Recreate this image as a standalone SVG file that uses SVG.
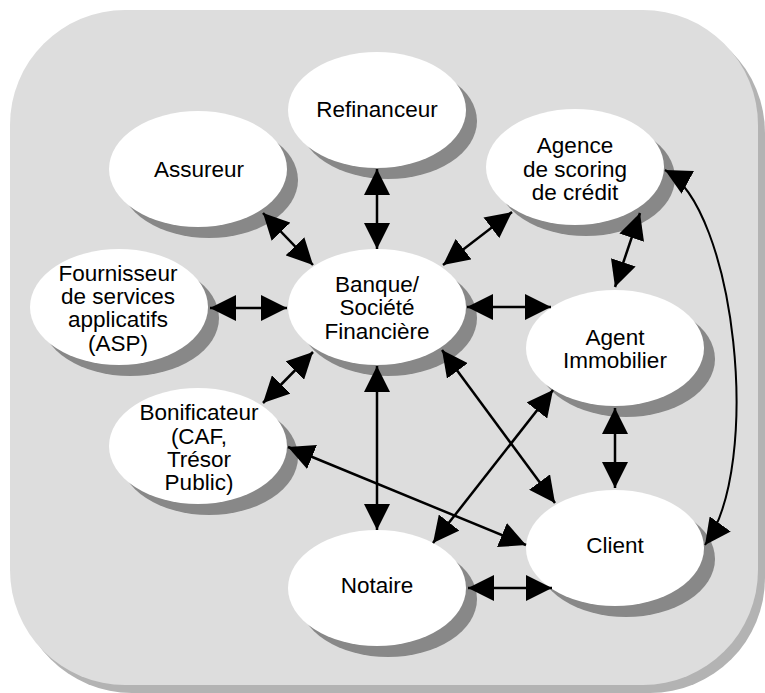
<svg xmlns="http://www.w3.org/2000/svg" width="765" height="693" viewBox="0 0 765 693">
<defs>
<style>
.sh{fill:#888888}
.el{fill:#ffffff}
text{font-family:"Liberation Sans",Arial,sans-serif;font-size:22.5px;fill:#000;text-anchor:middle}
.c{stroke:#000;stroke-width:2.5;fill:none;marker-start:url(#ah);marker-end:url(#ah)}
.cv{stroke-width:2}
</style>
<marker id="ah" markerUnits="userSpaceOnUse" markerWidth="26" markerHeight="26" refX="26" refY="13" orient="auto-start-reverse" viewBox="0 0 26 26">
<path d="M0,0 L26,13 L0,26 z" fill="#000"/>
</marker>
</defs>
<rect x="17" y="18" width="748" height="675" rx="115" ry="115" fill="#b3b3b3"/>
<rect x="10" y="10" width="748" height="675" rx="115" ry="115" fill="#dddddd"/>

<g id="refinanceur"><ellipse class="sh" cx="388" cy="121" rx="89" ry="58"/><ellipse class="el" cx="377" cy="110" rx="89" ry="58"/><text x="377" y="117">Refinanceur</text></g>
<g id="assureur"><ellipse class="sh" cx="209" cy="180" rx="89" ry="58"/><ellipse class="el" cx="198" cy="169" rx="89" ry="58"/><text x="199" y="177">Assureur</text></g>
<g id="agence"><ellipse class="sh" cx="586" cy="178" rx="89" ry="58"/><ellipse class="el" cx="575" cy="167" rx="89" ry="58"/><text x="575" y="153">Agence</text><text x="575" y="177">de scoring</text><text x="575" y="200">de crédit</text></g>
<g id="fournisseur"><ellipse class="sh" cx="130" cy="318" rx="89" ry="58"/><ellipse class="el" cx="119" cy="307" rx="89" ry="58"/><text x="118" y="281">Fournisseur</text><text x="118" y="304">de services</text><text x="118" y="327">applicatifs</text><text x="118" y="351">(ASP)</text></g>
<g id="banque"><ellipse class="sh" cx="388" cy="318" rx="89" ry="58"/><ellipse class="el" cx="377" cy="307" rx="89" ry="58"/><text x="377" y="292">Banque/</text><text x="377" y="315">Société</text><text x="377" y="339">Financière</text></g>
<g id="agent"><ellipse class="sh" cx="626" cy="359" rx="89" ry="58"/><ellipse class="el" cx="615" cy="348" rx="89" ry="58"/><text x="615" y="345">Agent</text><text x="615" y="368">Immobilier</text></g>
<g id="bonificateur"><ellipse class="sh" cx="209" cy="457" rx="89" ry="58"/><ellipse class="el" cx="198" cy="446" rx="89" ry="58"/><text x="199" y="420">Bonificateur</text><text x="199" y="444">(CAF,</text><text x="199" y="467">Trésor</text><text x="199" y="490">Public)</text></g>
<g id="client"><ellipse class="sh" cx="626" cy="559" rx="89" ry="58"/><ellipse class="el" cx="615" cy="548" rx="89" ry="58"/><text x="615" y="553">Client</text></g>
<g id="notaire"><ellipse class="sh" cx="388" cy="599" rx="89" ry="58"/><ellipse class="el" cx="377" cy="588" rx="89" ry="58"/><text x="377" y="593">Notaire</text></g>

<g id="connectors">
<line class="c" x1="377" y1="169" x2="377" y2="249"/>
<line class="c" x1="263" y1="213" x2="313" y2="265"/>
<line class="c" x1="512" y1="212" x2="443" y2="265"/>
<line class="c" x1="210" y1="308" x2="287" y2="308"/>
<line class="c" x1="263" y1="403" x2="313" y2="352"/>
<line class="c" x1="467" y1="307" x2="551" y2="307"/>
<line class="c" x1="377" y1="366" x2="377" y2="530"/>
<line class="c" x1="442" y1="350" x2="555" y2="503"/>
<line class="c" x1="553" y1="390" x2="433" y2="543"/>
<line class="c" x1="288" y1="447" x2="526" y2="545"/>
<line class="c" x1="468" y1="588" x2="552" y2="588"/>
<line class="c" x1="640" y1="213" x2="615" y2="287"/>
<line class="c" x1="615" y1="408" x2="615" y2="488"/>
<path class="c cv" d="M665,170 C735,208 763.5,464 705,545"/>
</g>
</svg>
